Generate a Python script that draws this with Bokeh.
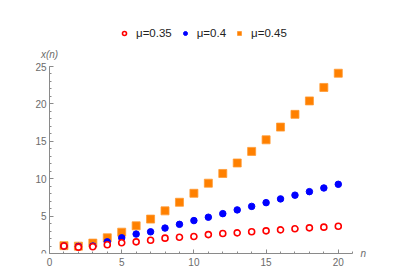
from bokeh.plotting import figure
from bokeh.models import (ColumnDataSource, Legend, LegendItem, Label, Range1d,
                          SingleIntervalTicker, FixedTicker, LinearAxis)
from bokeh.embed import file_html
from bokeh.resources import INLINE

n = list(range(1, 21))
mu_035 = [1.0, 0.85, 0.9, 1.16, 1.43, 1.56, 1.78, 2.05, 2.18, 2.27,
          2.53, 2.67, 2.76, 2.9, 3.03, 3.16, 3.3, 3.43, 3.52, 3.65]
mu_040 = [1.0, 0.95, 1.0, 1.56, 2.1, 2.6, 2.9, 3.4, 3.9, 4.4,
          4.85, 5.33, 5.83, 6.3, 6.8, 7.3, 7.8, 8.27, 8.76, 9.25]
mu_045 = [1.05, 0.98, 1.39, 2.1, 2.85, 3.7, 4.6, 5.7, 6.85, 8.05,
          9.4, 10.7, 12.1, 13.65, 15.2, 16.9, 18.6, 20.4, 22.2, 24.1]
labels = ["\u03bc=0.35", "\u03bc=0.4", "\u03bc=0.45"]
y_label = "x(n)"
x_label = "n"
x_axis_end = 21
y_axis_end = 25

src = ColumnDataSource(dict(n=n, a=mu_035, b=mu_040, c=mu_045))

p = figure(width=400, height=274, output_backend="svg", toolbar_location=None,
           x_range=Range1d(-1.11, 21.4), y_range=Range1d(0, 31.15),
           min_border_left=33, min_border_right=42, min_border_top=20,
           min_border_bottom=21)
p.outline_line_color = None
p.xgrid.visible = False
p.ygrid.visible = False
p.background_fill_color = "white"
p.border_fill_color = "white"

GRAY_T = "#6b6b6b"
GRAY_A = "#8a8a8a"

for ax in (p.xaxis[0], p.yaxis[0]):
    ax.ticker = SingleIntervalTicker(interval=5, num_minor_ticks=5)
    ax.axis_line_color = GRAY_A
    ax.major_tick_line_color = GRAY_A
    ax.minor_tick_line_color = GRAY_A
    ax.major_tick_in = 4
    ax.major_tick_out = 0
    ax.minor_tick_in = 2
    ax.minor_tick_out = 0
    ax.major_label_text_color = GRAY_T
    ax.major_label_text_font = "Liberation Sans"
    ax.major_label_text_font_size = "10px"
p.yaxis.fixed_location = 0
p.xaxis.bounds = (0, x_axis_end)
p.yaxis.bounds = (0, y_axis_end)
p.xaxis.major_label_standoff = 4
p.yaxis.major_label_standoff = 3

r_c = p.scatter("n", "c", source=src, marker="square", size=8,
                fill_color="#ff8000", line_color="#ff9a33", line_width=0.8)
r_b = p.scatter("n", "b", source=src, marker="circle", size=6.5,
                fill_color="#0000ff", line_color="#0000ff")
r_a = p.scatter("n", "a", source=src, marker="circle", size=6,
                fill_color="white", line_color="#ff0000", line_width=1.6)

# x-axis name at the right end of the x-axis (label of a bare right axis at y=0)
p.add_layout(LinearAxis(ticker=FixedTicker(ticks=[0]),
                        major_label_overrides={0: x_label},
                        axis_line_color=None, major_tick_line_color=None,
                        minor_tick_line_color=None,
                        major_tick_in=0, major_tick_out=0,
                        minor_tick_in=0, minor_tick_out=0,
                        major_label_standoff=2,
                        major_label_text_font="Liberation Sans",
                        major_label_text_font_style="italic",
                        major_label_text_font_size="10px",
                        major_label_text_color=GRAY_T), "right")

# y-axis name at the top of the y-axis
p.add_layout(Label(x=0, y=y_axis_end, text=y_label, text_align="center",
                   text_baseline="middle", y_offset=12,
                   text_font="Liberation Sans", text_font_style="italic",
                   text_font_size="10px", text_color=GRAY_T))

legend = Legend(items=[LegendItem(label=labels[0], renderers=[r_a]),
                       LegendItem(label=labels[1], renderers=[r_b]),
                       LegendItem(label=labels[2], renderers=[r_c])],
                orientation="horizontal", location=(86, 212.7),
                glyph_width=10, glyph_height=14, label_height=14,
                label_standoff=7, spacing=8, padding=0, margin=0,
                border_line_color=None, background_fill_alpha=0,
                label_text_font="Liberation Sans", label_text_font_size="11.5px",
                label_text_color="#222222")
p.add_layout(legend, "center")

open("out.html", "w").write(file_html(p, INLINE))
